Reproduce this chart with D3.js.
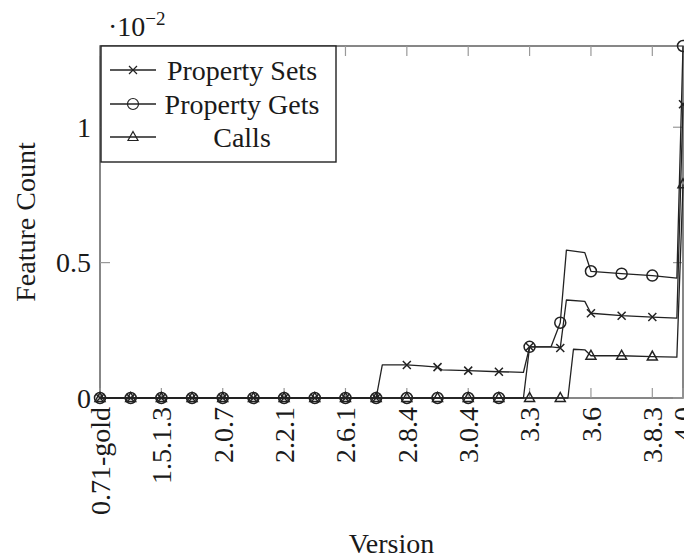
<!DOCTYPE html>
<html>
<head>
<meta charset="utf-8">
<script src="https://cdn.jsdelivr.net/npm/d3@7"></script>
<style>
  body { margin: 0; background: #fff; }
  text { font-family: "Liberation Serif", "DejaVu Serif", serif; fill: #1a1a1a; }
</style>
</head>
<body>
<svg id="chart" width="684" height="560"></svg>
<script>

// version labels shown on the x axis and the index they sit at
var versionLabels = ["0.71-gold", "1.5.1.3", "2.0.7", "2.2.1", "2.6.1", "2.8.4", "3.0.4", "3.3", "3.6", "3.8.3", "4.0"];
var versionTicks  = [0, 2, 4, 6, 8, 10, 12, 14, 16, 18, 19];

// y values are in units of 10^-2; marks sit on whole indexes, the rest are bends of the line
var propertySets = [[0,0],[1,0],[2,0],[3,0],[4,0],[5,0],[6,0],[7,0],[8,0],[9,0],
  [9.2,0.122],[10,0.122],[10.5,0.119],[11,0.114],[11.15,0.104],[12,0.101],[13,0.097],[13.8,0.095],
  [14,0.189],[14.7,0.189],[15,0.185],[15.2,0.362],[15.8,0.357],[16,0.313],[17,0.304],[18,0.299],[18.8,0.295],[19,1.085]];

var propertyGets = [[0,0],[1,0],[2,0],[3,0],[4,0],[5,0],[6,0],[7,0],[8,0],[9,0],[10,0],[11,0],[12,0],[13,0],
  [13.8,0],[14,0.189],[14.7,0.189],[15,0.278],[15.2,0.546],[15.8,0.537],[16,0.468],[17,0.459],[18,0.452],[18.8,0.443],[19,1.3]];

var calls = [[0,0],[1,0],[2,0],[3,0],[4,0],[5,0],[6,0],[7,0],[8,0],[9,0],[10,0],[11,0],[12,0],[13,0],[14,0],[15,0],
  [15.25,0],[15.43,0.18],[15.8,0.178],[16,0.156],[17,0.156],[18,0.153],[18.8,0.151],[19,0.789]];

var yTicks = [0, 0.5, 1];

var series = [
  {name: "Property Sets", data: propertySets, mark: "cross"},
  {name: "Property Gets", data: propertyGets, mark: "circle"},
  {name: "Calls", data: calls, mark: "triangle"}
];

var svg = d3.select("#chart"),
    margin = {top: 46, right: 1, bottom: 162, left: 100},
    width = +svg.attr("width") - margin.left - margin.right,
    height = +svg.attr("height") - margin.top - margin.bottom;

var x = d3.scaleLinear().domain([0, 19]).range([margin.left, margin.left + width]);
var y = d3.scaleLinear().domain([0, 1.3]).range([margin.top + height, margin.top]);

var fontSize = 28;
var tickLen = 10;

// frame
svg.append("rect")
    .attr("x", x(0)).attr("y", y(1.3))
    .attr("width", x(19) - x(0)).attr("height", y(0) - y(1.3))
    .attr("fill", "none").attr("stroke", "#555").attr("stroke-width", 1.4);

// inward ticks on all four sides
var tickG = svg.append("g").attr("stroke", "#999").attr("stroke-width", 1.2);
versionTicks.forEach(function(v) {
  tickG.append("line").attr("x1", x(v)).attr("x2", x(v)).attr("y1", y(0)).attr("y2", y(0) - tickLen);
  tickG.append("line").attr("x1", x(v)).attr("x2", x(v)).attr("y1", y(1.3)).attr("y2", y(1.3) + tickLen);
});
yTicks.forEach(function(v) {
  tickG.append("line").attr("x1", x(0)).attr("x2", x(0) + tickLen).attr("y1", y(v)).attr("y2", y(v));
  tickG.append("line").attr("x1", x(19)).attr("x2", x(19) - tickLen).attr("y1", y(v)).attr("y2", y(v));
});

// y tick labels
svg.append("g").selectAll("text")
  .data(yTicks)
  .enter().append("text")
    .attr("x", x(0) - 9)
    .attr("y", function(d) { return y(d); })
    .attr("dy", "0.35em")
    .attr("text-anchor", "end")
    .style("font-size", fontSize + "px")
    .text(function(d) { return d; });

// scale note
var note = svg.append("text")
    .attr("x", 108).attr("y", 36)
    .style("font-size", fontSize + "px");
note.append("tspan").text("\u00b710");
note.append("tspan").attr("dy", -11).style("font-size", "19px").text("\u22122");

// x tick labels, rotated
svg.append("g").selectAll("text")
  .data(versionTicks)
  .enter().append("text")
    .attr("transform", function(d) { return "translate(" + x(d) + "," + (y(0) + 9) + ") rotate(-90)"; })
    .attr("dy", "0.35em")
    .attr("text-anchor", "end")
    .style("font-size", fontSize + "px")
    .text(function(d, i) { return versionLabels[i]; });

// axis titles
svg.append("text")
    .attr("x", (x(0) + x(19)) / 2).attr("y", 553)
    .attr("text-anchor", "middle")
    .style("font-size", fontSize + "px")
    .text("Version");

svg.append("text")
    .attr("transform", "translate(35," + (y(0) + y(1.3)) / 2 + ") rotate(-90)")
    .attr("text-anchor", "middle")
    .style("font-size", fontSize + "px")
    .text("Feature Count");

var line = d3.line()
    .x(function(d) { return x(d[0]); })
    .y(function(d) { return y(d[1]); });

function drawMark(g, kind, cx, cy) {
  if (kind == "cross") {
    g.append("path").attr("d", "M" + (cx - 4) + "," + (cy - 4) + "L" + (cx + 4) + "," + (cy + 4) +
      "M" + (cx - 4) + "," + (cy + 4) + "L" + (cx + 4) + "," + (cy - 4));
  } else if (kind == "circle") {
    g.append("circle").attr("cx", cx).attr("cy", cy).attr("r", 5.5);
  } else {
    g.append("path").attr("d", "M" + cx + "," + (cy - 5.5) + "L" + (cx + 5) + "," + (cy + 3.5) +
      "L" + (cx - 5) + "," + (cy + 3.5) + "Z");
  }
}

series.forEach(function(s) {
  svg.append("path")
      .datum(s.data)
      .attr("fill", "none")
      .attr("stroke", "#222")
      .attr("stroke-width", 1.3)
      .attr("stroke-linejoin", "round")
      .attr("d", line);

  var mg = svg.append("g").attr("fill", "none").attr("stroke", "#222").attr("stroke-width", 1.5);
  s.data.filter(function(d) { return Number.isInteger(d[0]); }).forEach(function(d) {
    drawMark(mg, s.mark, x(d[0]), y(d[1]));
  });
});

// legend
var legend = svg.append("g");
legend.append("rect")
    .attr("x", 101).attr("y", 46).attr("width", 235).attr("height", 116)
    .attr("fill", "#fff").attr("stroke", "#222").attr("stroke-width", 1.4);

var legendRows = [70, 104, 137];
series.forEach(function(s, i) {
  var ly = legendRows[i];
  legend.append("line").attr("x1", 110).attr("x2", 156).attr("y1", ly).attr("y2", ly)
      .attr("stroke", "#222").attr("stroke-width", 1.3);
  var mg = legend.append("g").attr("fill", "none").attr("stroke", "#222").attr("stroke-width", 1.2);
  drawMark(mg, s.mark, 133, ly);
  legend.append("text")
      .attr("x", 242).attr("y", ly)
      .attr("dy", "0.35em")
      .attr("text-anchor", "middle")
      .style("font-size", fontSize + "px")
      .text(s.name);
});

</script>
</body>
</html>
